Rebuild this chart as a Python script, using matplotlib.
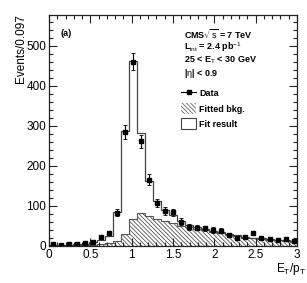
import numpy as np
import matplotlib
matplotlib.use("Agg")
import matplotlib.pyplot as plt
from matplotlib.ticker import MultipleLocator
from matplotlib.patches import Rectangle
from matplotlib.lines import Line2D

plt.rcParams['font.family'] = ['Liberation Sans', 'DejaVu Sans']
plt.rcParams['mathtext.fontset'] = 'custom'
plt.rcParams['mathtext.rm'] = 'Liberation Sans'
plt.rcParams['mathtext.it'] = 'Liberation Sans'
plt.rcParams['mathtext.bf'] = 'Liberation Sans:bold'
plt.rcParams['hatch.linewidth'] = 0.6

bin_width = 0.097
n_bins = 31

data_counts = [4, 3, 4, 4, 7, 11, 22, 32, 83, 285, 460, 262, 166, 107, 87, 84,
               61, 48, 46, 44, 40, 38, 28, 20, 23, 32, 20, 18, 14, 17, 12]
fit_counts = [3, 3, 3, 4, 5, 9, 15, 24, 84, 287, 461, 282, 163, 113, 91, 77,
              62, 52, 47, 42, 38, 35, 30, 27, 23, 21, 20, 18, 16, 14, 12]
bkg_counts = [2, 2, 2, 3, 3, 3, 5, 7, 12, 31, 68, 82, 74, 68, 63, 57,
              51, 47, 42, 40, 35, 32, 28, 24, 21, 20, 18, 16, 14, 13, 11]

edges = np.arange(n_bins + 1) * bin_width
centers = edges[:-1] + bin_width / 2
data = np.array(data_counts, dtype=float)
fit = np.array(fit_counts, dtype=float)
bkg = np.array(bkg_counts, dtype=float)
errs = np.sqrt(data)

HATCH = '\\' * 8

fig = plt.figure(figsize=(3.07, 2.83), dpi=100)
ax = fig.add_axes([49/307, 1 - 246/283, (297-49)/307, (246-15)/283])

# background hatched
ax.stairs(bkg, edges, fill=True, facecolor='white', edgecolor='#555555',
          hatch=HATCH, linewidth=0.0)
ax.stairs(bkg, edges, fill=False, edgecolor='#555555', linewidth=0.8)
# fit result
ax.stairs(fit, edges, fill=False, edgecolor='#444444', linewidth=0.9)
# data
ax.errorbar(centers, data, yerr=errs, fmt='s', color='black', markersize=3,
            elinewidth=0.8, capsize=1.2, capthick=0.6)

ax.set_xlim(0, 3)
ax.set_ylim(0, 577)
ax.xaxis.set_major_locator(MultipleLocator(0.5))
ax.xaxis.set_minor_locator(MultipleLocator(0.1))
ax.yaxis.set_major_locator(MultipleLocator(100))
ax.yaxis.set_minor_locator(MultipleLocator(20))
ax.tick_params(which='both', direction='in', top=True, right=True,
               labelsize=8.5, width=0.8, colors='#222222', labelcolor='black')
ax.tick_params(which='major', length=6)
ax.tick_params(which='minor', length=3)
ax.tick_params(axis='x', pad=2.5)
ax.tick_params(axis='y', pad=2)
ax.set_xticks([0, 0.5, 1, 1.5, 2, 2.5, 3])
ax.set_xticklabels(['0', '0.5', '1', '1.5', '2', '2.5', '3'])
for s in ax.spines.values():
    s.set_linewidth(0.9)
    s.set_color('#222222')

fig.text(21/307, 1 - 14/283, 'Events/0.097', rotation=90, ha='center', va='top',
         fontsize=8.5)
fig.text(306/307, 1 - 261/283, r'E$_{\rm T}$/p$_{\rm T}$', ha='right', va='top',
         fontsize=8.5)

ax.text(0.045, 0.92, '(a)', transform=ax.transAxes, fontsize=6.5, fontweight='bold',
        ha='left', va='center')

tx = 184
lines = [r'CMS$\sqrt{\rm s}$ = 7 TeV', r'L$_{\rm int}$ = 2.4 pb$^{-1}$',
         r'25 < E$_{\rm T}$ < 30 GeV', r'|$\eta$| < 0.9']
ys = [34, 47, 60, 73]
for t, y in zip(lines, ys):
    fig.text(tx/307, 1 - y/283, t, fontsize=6.5, fontweight='bold', ha='left', va='center')

# legend (manual)
handles = [Line2D([0], [0], color='black', marker='s', markersize=2.5, linewidth=0.8),
           Rectangle((0, 0), 1, 1, facecolor='white', edgecolor='#666666', hatch=HATCH, linewidth=0),
           Rectangle((0, 0), 1, 1, facecolor='white', edgecolor='#444444', linewidth=0.8)]
labels = ['Data', 'Fitted bkg.', 'Fit result']
leg = fig.legend(handles, labels, loc='upper left', bbox_to_anchor=(181/307, 1 - 88/283),
                 frameon=False, prop={'weight': 'bold', 'size': 6.5}, handlelength=1.7,
                 handleheight=1.5, handletextpad=0.3, labelspacing=0.45, borderpad=0,
                 borderaxespad=0)

fig.savefig('out.png', dpi=100)
